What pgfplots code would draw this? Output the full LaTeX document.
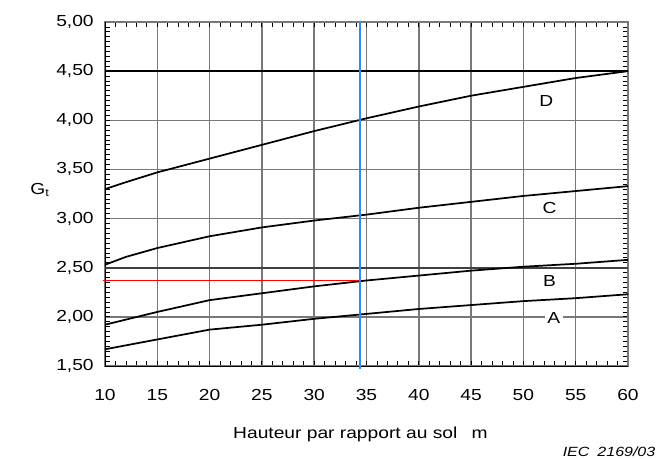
\documentclass[border=0pt]{standalone}
\usepackage{pgfplots}
\pgfplotsset{compat=1.18}
\usepackage{fontspec}
\setmainfont{Liberation Sans}[FakeStretch=1.2]
\definecolor{gridgray}{RGB}{120,120,120}
\definecolor{lineblue}{RGB}{40,140,250}
\begin{document}
\begin{tikzpicture}
\useasboundingbox (-78.75pt,-69.75pt) rectangle (417.75pt,274.5pt);
\begin{axis}[
  at={(0,0)}, anchor=south west,
  scale only axis, width=392.25pt, height=258pt,
  xmin=10, xmax=60, ymin=1.5, ymax=5,
  xtick={10,15,...,60}, ytick={1.5,2,...,5},
  minor x tick num=4, minor y tick num=9,
  tick align=inside, major tick length=4pt, minor tick length=3.5pt,
  tick style={black, line width=0.6pt},
  grid=major,
  major grid style={gridgray, line width=1.1pt},
  axis line style={gridgray, line width=1.1pt},
  font=\fontsize{12}{14}\selectfont,
  tick label style={font=\fontsize{12}{14}\selectfont},
  /pgf/number format/assume math mode=true,
  yticklabel style={/pgf/number format/.cd, fixed, fixed zerofill, precision=2, use comma, /tikz/.cd, xshift=-5pt},
  xticklabel style={yshift=-14pt},
  xlabel={Hauteur par rapport au sol\hspace{0.9em}m},
  xlabel style={at={(axis description cs:0.4885,-0.198)}, anchor=center},
  clip=false,
]
% left and bottom axis black
\addplot[black, line width=0.7pt] coordinates {(10,1.5)(10,5)};
\addplot[black, line width=0.7pt] coordinates {(10,1.5)(60,1.5)};
% reference lines
\addplot[black, line width=1pt] coordinates {(10,4.5)(60,4.5)};
\addplot[black!75, line width=1.4pt] coordinates {(10,2.5)(60,2.5)};
% curves
\addplot[black, line width=1.3pt] coordinates {(10,3.30)(12,3.37)(15,3.47)(20,3.61)(25,3.75)(30,3.89)(35,4.02)(40,4.14)(45,4.25)(50,4.34)(55,4.43)(60,4.50)};
\addplot[black, line width=1.3pt] coordinates {(10,2.53)(12,2.61)(15,2.70)(20,2.82)(25,2.91)(30,2.98)(35,3.04)(40,3.11)(45,3.17)(50,3.23)(55,3.28)(60,3.33)};
\addplot[black, line width=1.3pt] coordinates {(10,1.92)(15,2.05)(20,2.17)(25,2.24)(30,2.31)(35,2.37)(40,2.42)(45,2.47)(50,2.51)(55,2.54)(60,2.58)};
\addplot[black, line width=1.3pt] coordinates {(10,1.67)(15,1.77)(20,1.87)(25,1.92)(30,1.98)(35,2.03)(40,2.08)(45,2.12)(50,2.16)(55,2.19)(60,2.23)};
% red and blue
\addplot[red, line width=0.9pt] coordinates {(9.8,2.37)(34.4,2.37)};
\addplot[lineblue, line width=1.1pt] coordinates {(34.4,1.47)(34.4,5)};
% labels
\node at (axis cs:52.2,4.20) {D};
\node at (axis cs:52.5,3.11) {C};
\node at (axis cs:52.5,2.36) {B};
\node[fill=white, inner sep=2pt] at (axis cs:52.9,1.99) {A};
\node at (axis description cs:-0.1243,0.5116) {G\textsubscript{t}};
\node[anchor=east, font=\fontsize{10}{12}\selectfont\itshape] at (axis description cs:1.0612,-0.25) {IEC\hspace{0.6em}2169/03};
\end{axis}
\end{tikzpicture}
\end{document}
